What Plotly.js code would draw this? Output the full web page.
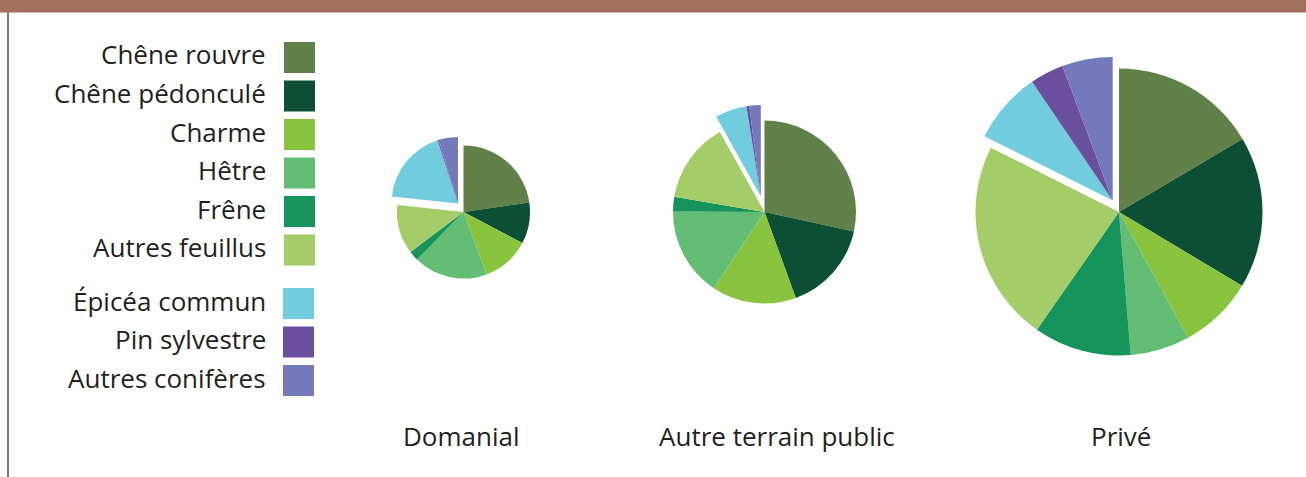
<!DOCTYPE html>
<html>
<head>
<meta charset="utf-8">
<script src="https://cdn.plot.ly/plotly-3.0.1.min.js"></script>
<style>
  html, body { margin: 0; padding: 0; background: #ffffff; }
  #chart { width: 1306px; height: 477px; }
</style>
</head>
<body>
<div id="chart"></div>
<script>
// ---- Data ----
const species = ['Chêne rouvre', 'Chêne pédonculé', 'Charme', 'Hêtre', 'Frêne', 'Autres feuillus',
                 'Épicéa commun', 'Pin sylvestre', 'Autres conifères'];
const isConifer = [false, false, false, false, false, false, true, true, true];
const ownerLabels = ['Domanial', 'Autre terrain public', 'Privé'];
// shares (%), clockwise from 12 o'clock
const domanial    = [22.8, 10.0, 11.7, 18.0, 2.4, 12.0, 18.4, 0.3, 4.7];
const autrePublic = [28.4, 16.0, 14.9, 15.7, 2.6, 14.2, 5.6, 0.5, 2.0];
const prive       = [16.5, 17.1, 8.4, 6.7, 11.0, 22.7, 8.1, 3.8, 5.7];

// ---- Styles ----
const speciesColors = ['#62804A', '#0D4F34', '#8AC43F', '#63BD74', '#17935C', '#A4CD69',
                       '#71CDDD', '#6B4F9F', '#7479B9'];
const W = 1306, H = 477;
const textColor = '#231F20';
const fontFam = '"Open Sans", "Noto Sans", sans-serif';

// pie geometry in pixels: centre, radius, offset of the pulled conifer group
const pieGeom = [
  {cx: 463.5, cy: 212, r: 66.5, dx: -5.5, dy: -8.5,  lx: 461},
  {cx: 764.5, cy: 212, r: 91.5, dx: -3.7, dy: -15.5, lx: 777},
  {cx: 1119,  cy: 212, r: 143.5, dx: -6.3, dy: -11.5, lx: 1121}
];
const series = [domanial, autrePublic, prive];

function dom(cx, cy, r) {
  return {x: [(cx - r) / W, (cx + r) / W], y: [1 - (cy + r) / H, 1 - (cy - r) / H]};
}

const traces = [];
series.forEach(function (vals, k) {
  const g = pieGeom[k];
  const base = {
    type: 'pie', values: vals, labels: species, sort: false, direction: 'clockwise',
    rotation: 0, textinfo: 'none', hoverinfo: 'label+percent', showlegend: false
  };
  traces.push(Object.assign({}, base, {
    name: ownerLabels[k],
    domain: dom(g.cx, g.cy, g.r),
    marker: {colors: speciesColors.map(function (c, i) { return isConifer[i] ? 'rgba(0,0,0,0)' : c; }),
             line: {width: 0}}
  }));
  traces.push(Object.assign({}, base, {
    name: ownerLabels[k] + ' (conifères)',
    domain: dom(g.cx + g.dx, g.cy + g.dy, g.r),
    marker: {colors: speciesColors.map(function (c, i) { return isConifer[i] ? c : 'rgba(0,0,0,0)'; }),
             line: {width: 0}}
  }));
});

// ---- Decorations: banner, frame line, legend ----
const shapes = [
  {type: 'rect', xref: 'paper', yref: 'paper', x0: 0, x1: 1, y0: 1 - 12.5 / H, y1: 1,
   fillcolor: '#A26F5D', line: {width: 0}, layer: 'below'},
  {type: 'rect', xref: 'paper', yref: 'paper', x0: 7 / W, x1: 9 / W, y0: 0, y1: 1,
   fillcolor: '#A26F5D', line: {width: 0}, layer: 'below'}
];
const annotations = [];
let conIdx = 0, feuIdx = 0;
species.forEach(function (name, i) {
  const top = isConifer[i] ? 288 + 38.5 * (conIdx++) : 42 + 38.5 * (feuIdx++);
  const x0 = isConifer[i] ? 283 : 284;
  shapes.push({type: 'rect', xref: 'paper', yref: 'paper',
    x0: x0 / W, x1: (x0 + 31) / W, y0: 1 - (top + 31) / H, y1: 1 - top / H,
    fillcolor: speciesColors[i], line: {width: 0}});
  annotations.push({xref: 'paper', yref: 'paper', x: 268 / W, y: 1 - (top + 12.5) / H,
    xanchor: 'right', yanchor: 'middle', showarrow: false, text: name,
    font: {family: fontFam, size: 26, color: textColor}});
});
ownerLabels.forEach(function (lab, k) {
  annotations.push({xref: 'paper', yref: 'paper', x: pieGeom[k].lx / W, y: 1 - 436 / H,
    xanchor: 'center', yanchor: 'middle', showarrow: false, text: lab,
    font: {family: fontFam, size: 26, color: textColor}});
});

const layout = {
  width: W, height: H, margin: {l: 0, r: 0, t: 0, b: 0},
  paper_bgcolor: '#ffffff', plot_bgcolor: '#ffffff',
  showlegend: false, shapes: shapes, annotations: annotations
};
Plotly.newPlot('chart', traces, layout, {displayModeBar: false, staticPlot: true});
</script>
</body>
</html>
